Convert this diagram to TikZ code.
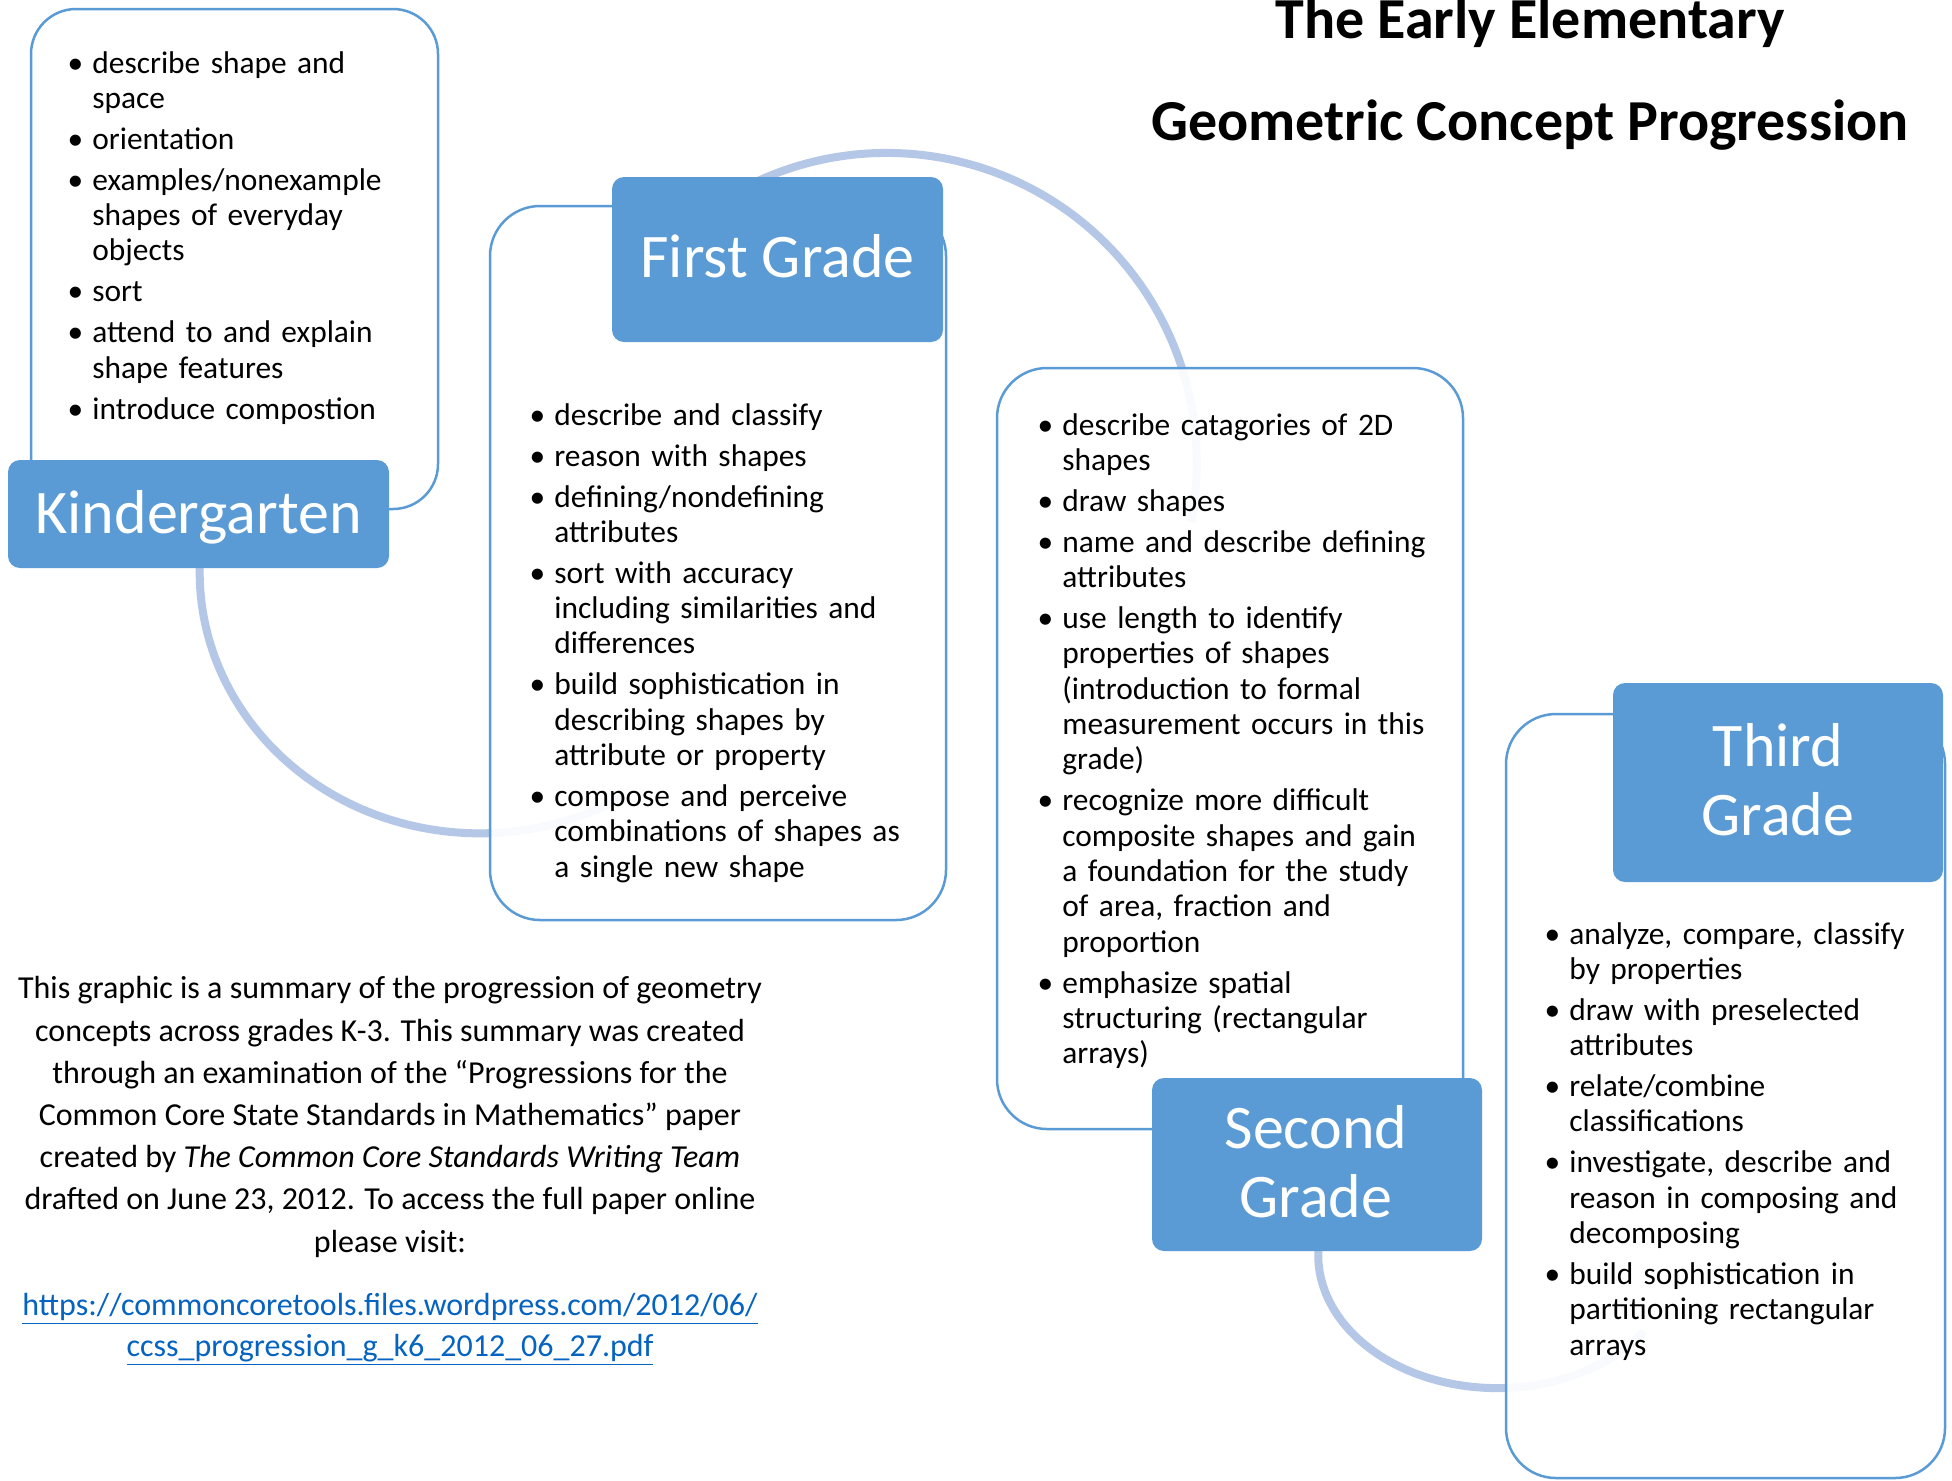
\documentclass[tikz,border=0pt]{standalone}
\usepackage{fontspec}
\setmainfont{Carlito}
\definecolor{accent}{HTML}{5B9BD5}
\definecolor{arcblue}{HTML}{B4C7E7}
\definecolor{linkblue}{HTML}{0563C1}
\newcommand\bitem[1]{\noindent\llap{\makebox[0pt][c]{\textbullet}\hspace{8.5pt}}#1}
\newcommand\bsep{\par\vspace{2.85pt}}
\tikzset{
  outline/.style={draw=accent, line width=1.25pt, fill=white, fill opacity=0.92, inner sep=0pt, rounded corners=25pt},
  gradebox/.style={fill=accent, draw=none, inner sep=0pt, rounded corners=6pt},
  gradetext/.style={text=white, inner sep=0pt, align=center, font=\fontsize{31}{34.5}\selectfont},
  arcline/.style={draw=arcblue, line width=4pt},
  bullets/.style={anchor=base west, inner sep=0pt, text width=190pt, align=left,
    font=\fontsize{15.7}{17.65}\selectfont\setlength\parindent{0pt}},
  titletext/.style={inner sep=0pt, align=center, font=\fontsize{29}{51}\selectfont\bfseries},
  paratext/.style={inner sep=0pt, align=center, font=\fontsize{16}{21.1}\selectfont},
  linktext/.style={inner sep=0pt, align=center, text=linkblue, font=\fontsize{16}{20.5}\selectfont}
}
\begin{document}
\begin{tikzpicture}[x=0.5pt, y=-0.5pt]
\useasboundingbox (0,0) rectangle (1952,1480);
\fill[white] (0,0) rectangle (1952,1480);

% connecting arcs (drawn first, under the boxes)
\coordinate (a1s) at (204,527);
\draw[arcline] (a1s) arc[start angle=190, end angle=59, x radius=280, y radius=261];
\coordinate (a2s) at (709,209);
\draw[arcline] (a2s) arc[start angle=235, end angle=371, radius=310];
\coordinate (a3s) at (1321,1232);
\draw[arcline] (a3s) arc[start angle=190, end angle=35, x radius=179, y radius=133];

% outline boxes
\node[outline, rounded corners=22.5pt, minimum width=203.5pt, minimum height=250pt] (kbox) at (234.5,259) {};
\node[outline, minimum width=228pt, minimum height=357pt] (fbox) at (718,563) {};
\node[outline, minimum width=233pt, minimum height=380.5pt] (sbox) at (1230,748.5) {};
\node[outline, minimum width=219.5pt, minimum height=382pt] (tbox) at (1725.5,1096) {};

% grade labels
\node[gradebox, minimum width=190.5pt, minimum height=54pt] (klab) at (198.5,514) {};
\node[gradetext, anchor=base] (ktext) at (198.5,533) {Kindergarten};
\node[gradebox, minimum width=165.5pt, minimum height=82.5pt] (flab) at (777.5,259.5) {};
\node[gradetext, anchor=base] (ftext) at (777.5,277) {First Grade};
\node[gradebox, minimum width=165pt, minimum height=86.5pt] (slab) at (1317,1164.5) {};
\node[gradetext, anchor=base] (stext) at (1316,1217) {Second\\Grade};
\node[gradebox, minimum width=165pt, minimum height=99.5pt] (tlab) at (1778,782.5) {};
\node[gradetext, anchor=base] (ttext) at (1778,835) {Third\\Grade};

% bullet lists
\node[bullets] (klist) at (92,73) {%
\bitem{describe shape and\\space}\bsep
\bitem{orientation}\bsep
\bitem{examples/nonexample\\shapes of everyday\\objects}\bsep
\bitem{sort}\bsep
\bitem{attend to and explain\\shape features}\bsep
\bitem{introduce compostion}};

\node[bullets] (flist) at (554,425) {%
\bitem{describe and classify}\bsep
\bitem{reason with shapes}\bsep
\bitem{defining/nondefining\\attributes}\bsep
\bitem{sort with accuracy\\including similarities and\\differences}\bsep
\bitem{build sophistication in\\describing shapes by\\attribute or property}\bsep
\bitem{compose and perceive\\combinations of shapes as\\a single new shape}};

\node[bullets] (slist) at (1062,435) {%
\bitem{describe catagories of 2D\\shapes}\bsep
\bitem{draw shapes}\bsep
\bitem{name and describe defining\\attributes}\bsep
\bitem{use length to identify\\properties of shapes\\(introduction to formal\\measurement occurs in this\\grade)}\bsep
\bitem{recognize more difficult\\composite shapes and gain\\a foundation for the study\\of area, fraction and\\proportion}\bsep
\bitem{emphasize spatial\\structuring (rectangular\\arrays)}};

\node[bullets] (tlist) at (1569,944) {%
\bitem{analyze, compare, classify\\by properties}\bsep
\bitem{draw with preselected\\attributes}\bsep
\bitem{relate/combine\\classifications}\bsep
\bitem{investigate, describe and\\reason in composing and\\decomposing}\bsep
\bitem{build sophistication in\\partitioning rectangular\\arrays}};

% title
\node[titletext, anchor=base] (title) at (1530,140) {The Early Elementary\\Geometric Concept Progression};

% note and link
\node[paratext, anchor=base] (note) at (390,1252) {This graphic is a summary of the progression of geometry\\
concepts across grades K-3. This summary was created\\
through an examination of the “Progressions for the\\
Common Core State Standards in Mathematics” paper\\
created by \textit{The Common Core Standards Writing Team}\\
drafted on June 23, 2012. To access the full paper online\\
please visit:};
\node[linktext, anchor=base] (url) at (390,1356) {\underline{https://commoncoretools.files.wordpress.com/2012/06/}\\
\underline{ccss\_progression\_g\_k6\_2012\_06\_27.pdf}};
\end{tikzpicture}
\end{document}
